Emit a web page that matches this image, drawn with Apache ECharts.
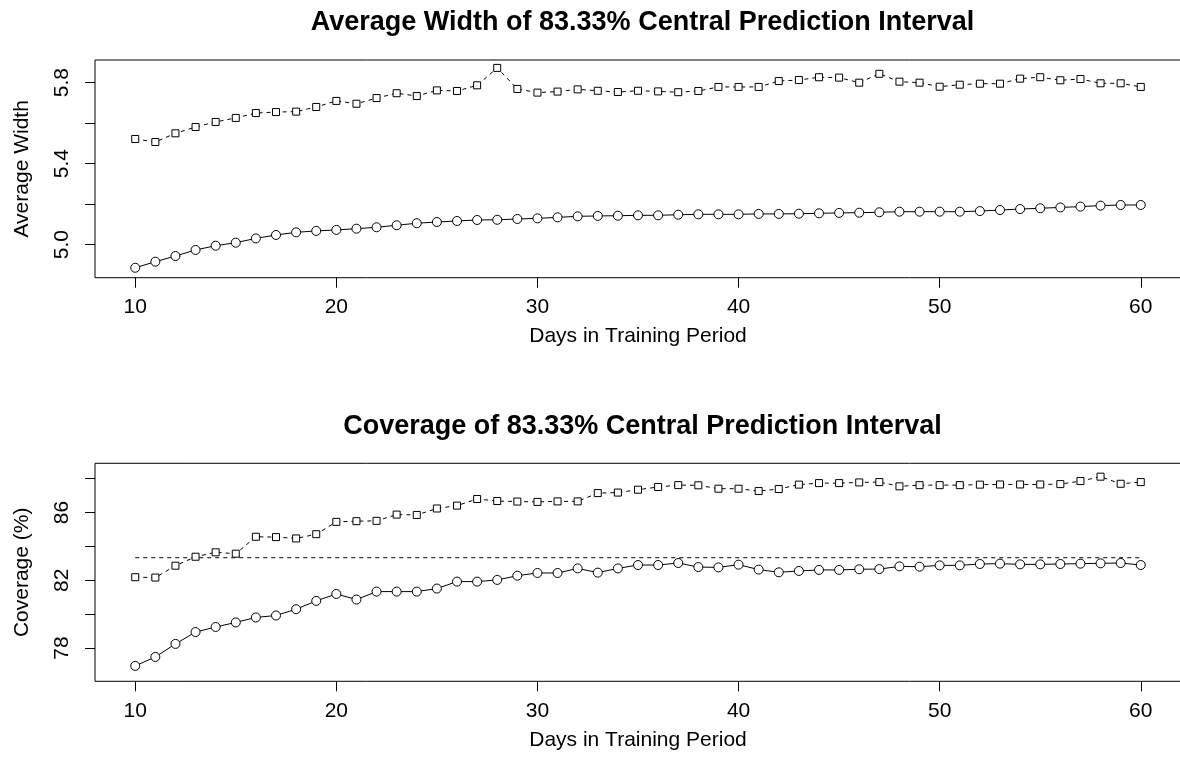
<!DOCTYPE html>
<html>
<head>
<meta charset="utf-8">
<script src="https://cdn.jsdelivr.net/npm/echarts@6/dist/echarts.min.js"></script>
<style>
html,body{margin:0;padding:0;background:#fff;}
#chart{width:1180px;height:764px;}
</style>
</head>
<body>
<div id="chart"></div>
<script>
const days = [10,11,12,13,14,15,16,17,18,19,20,21,22,23,24,25,26,27,28,29,30,31,32,33,34,35,36,37,38,39,40,41,42,43,44,45,46,47,48,49,50,51,52,53,54,55,56,57,58,59,60];
const widthCircle = [4.886,4.916,4.944,4.974,4.995,5.010,5.031,5.048,5.061,5.068,
  5.073,5.079,5.086,5.096,5.106,5.112,5.117,5.122,5.123,5.127,
  5.130,5.135,5.140,5.142,5.143,5.145,5.145,5.148,5.150,5.150,
  5.150,5.152,5.152,5.153,5.155,5.157,5.158,5.160,5.163,5.163,
  5.163,5.163,5.166,5.171,5.176,5.180,5.184,5.188,5.193,5.196,5.196];
const widthSquare = [5.522,5.507,5.550,5.581,5.606,5.626,5.650,5.655,5.657,5.680,
  5.710,5.696,5.724,5.748,5.734,5.762,5.759,5.787,5.873,5.769,
  5.751,5.756,5.767,5.760,5.754,5.760,5.757,5.753,5.759,5.779,
  5.779,5.779,5.808,5.813,5.827,5.825,5.800,5.844,5.805,5.800,
  5.780,5.790,5.795,5.795,5.820,5.827,5.812,5.818,5.797,5.797,5.779];
const coverCircle = [76.94,77.47,78.24,78.94,79.24,79.51,79.80,79.92,80.29,80.78,
  81.19,80.86,81.33,81.33,81.33,81.51,81.92,81.92,82.02,82.27,
  82.43,82.43,82.70,82.45,82.70,82.90,82.90,83.02,82.78,82.76,
  82.92,82.63,82.47,82.55,82.61,82.61,82.65,82.66,82.82,82.80,
  82.88,82.88,82.96,82.98,82.94,82.94,82.96,82.98,83.00,83.02,82.90];
const coverSquare = [82.18,82.16,82.86,83.39,83.65,83.57,84.57,84.55,84.47,84.72,
  85.45,85.49,85.51,85.88,85.86,86.24,86.41,86.80,86.68,86.65,
  86.63,86.66,86.66,87.15,87.18,87.35,87.51,87.62,87.61,87.41,
  87.41,87.27,87.39,87.65,87.74,87.74,87.78,87.80,87.55,87.62,
  87.62,87.62,87.65,87.66,87.66,87.66,87.68,87.86,88.12,87.70,87.80];
const nominal = 83.33;
const nominalSpan = [10, 60];

const xTicks = [10,20,30,40,50,60];
const widthTicks = [5.0,5.2,5.4,5.6,5.8];
const widthLabels = [5.0,5.4,5.8];
const coverTicks = [78,80,82,84,86,88];
const coverLabels = [78,82,86];

const titles = ['Average Width of 83.33% Central Prediction Interval','Coverage of 83.33% Central Prediction Interval'];
const xName = 'Days in Training Period';
const yNames = ['Average Width','Coverage (%)'];

const FONT = '"Liberation Sans", Arial, Helvetica, sans-serif';
const pairs = arr => days.map((d,i)=>[d,arr[i]]);

function xAxis(gi){
  return {
    type:'value', gridIndex:gi, min:8, max:62,
    axisLine:{show:false},
    splitLine:{show:false},
    axisTick:{show:true, length:10, inside:false, customValues:xTicks, lineStyle:{color:'#000',width:1}},
    axisLabel:{show:true, customValues:xTicks, margin:19, color:'#000', fontSize:21, fontFamily:FONT},
    name:xName, nameLocation:'middle', nameGap:48,
    nameTextStyle:{color:'#000', fontSize:21, fontFamily:FONT}
  };
}
function yAxis(gi,min,max,ticks,labels,fmt,name){
  return {
    type:'value', gridIndex:gi, min:min, max:max,
    axisLine:{show:false},
    splitLine:{show:false},
    axisTick:{show:true, length:10, inside:false, customValues:ticks, lineStyle:{color:'#000',width:1}},
    axisLabel:{show:true, customValues:labels, rotate:90, margin:22, color:'#000', fontSize:21, fontFamily:FONT,
      formatter:v=>fmt(v)},
    name:name, nameLocation:'middle', nameGap:62, nameRotate:90,
    nameTextStyle:{color:'#000', fontSize:21, fontFamily:FONT}
  };
}
function lineSeries(xi, data, sym, size, dashed){
  return {
    type:'line', xAxisIndex:xi, yAxisIndex:xi, data:data,
    symbol:sym, symbolSize:size, showSymbol:true, animation:false,
    itemStyle:{color:'#fff', borderColor:'#000', borderWidth:1},
    lineStyle:{color:'#000', width:1, type: dashed ? [4,4] : 'solid'},
    emphasis:{disabled:true}, z:3
  };
}

const chart = echarts.init(document.getElementById('chart'), null, {renderer:'canvas'});
chart.setOption({
  backgroundColor:'#fff',
  animation:false,
  title:[
    {text:titles[0], left:637.5, top:4, textAlign:'center',
      textStyle:{fontSize:27, fontWeight:'bold', color:'#000', fontFamily:FONT}},
    {text:titles[1], left:637.5, top:408, textAlign:'center',
      textStyle:{fontSize:27, fontWeight:'bold', color:'#000', fontFamily:FONT}}
  ],
  grid:[
    {left:95, top:60, width:1086, height:217.7, show:true, borderColor:'#000', borderWidth:1, backgroundColor:'transparent', containLabel:false, outerBoundsMode:'none'},
    {left:95, top:463.3, width:1086, height:218, show:true, borderColor:'#000', borderWidth:1, backgroundColor:'transparent', containLabel:false, outerBoundsMode:'none'}
  ],
  xAxis:[xAxis(0), xAxis(1)],
  yAxis:[
    yAxis(0, 4.837, 5.912, widthTicks, widthLabels, v=>Number(v).toFixed(1), yNames[0]),
    yAxis(1, 76.03, 88.91, coverTicks, coverLabels, v=>String(Math.round(v)), yNames[1])
  ],
  series:[
    lineSeries(0, pairs(widthSquare), 'rect', 7, true),
    lineSeries(0, pairs(widthCircle), 'circle', 9, false),
    {type:'line', xAxisIndex:1, yAxisIndex:1, data:nominalSpan.map(d=>[d,nominal]),
      symbol:'none', lineStyle:{color:'#000', width:1, type:[4,4]}, animation:false, z:2, emphasis:{disabled:true}},
    lineSeries(1, pairs(coverSquare), 'rect', 7, true),
    lineSeries(1, pairs(coverCircle), 'circle', 9, false)
  ]
});
</script>
</body>
</html>
